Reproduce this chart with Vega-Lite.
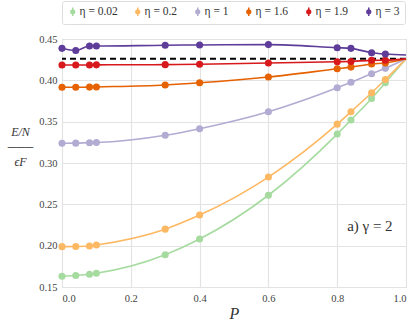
{
  "$schema": "https://vega.github.io/schema/vega-lite/v6.json",
  "width": 344,
  "height": 248,
  "autosize": {"type": "none"},
  "padding": {"left": 62, "top": 39, "right": 9, "bottom": 40},
  "background": "white",
  "config": {
    "font": "serif",
    "view": {"stroke": "#c8c8c8", "strokeWidth": 1},
    "axis": {"grid": true, "gridColor": "#e3e3e3", "gridWidth": 1.2, "domain": false, "ticks": false, "labelFont": "serif", "labelFontSize": 10.5, "labelColor": "#444", "titleFont": "serif", "titleFontWeight": "normal", "titleColor": "#333"},
    "legend": {"labelFont": "serif", "titleFont": "serif"},
    "text": {"font": "serif"}
  },
  "datasets": {
    "curves": [
      {"P": 0, "E": 0.163, "eta": "η = 0.02"},
      {"P": 0.04, "E": 0.164, "eta": "η = 0.02"},
      {"P": 0.08, "E": 0.1654, "eta": "η = 0.02"},
      {"P": 0.1, "E": 0.1666, "eta": "η = 0.02"},
      {"P": 0.3, "E": 0.189, "eta": "η = 0.02"},
      {"P": 0.4, "E": 0.208, "eta": "η = 0.02"},
      {"P": 0.6, "E": 0.261, "eta": "η = 0.02"},
      {"P": 0.8, "E": 0.335, "eta": "η = 0.02"},
      {"P": 0.84, "E": 0.352, "eta": "η = 0.02"},
      {"P": 0.9, "E": 0.378, "eta": "η = 0.02"},
      {"P": 0.94, "E": 0.397, "eta": "η = 0.02"},
      {"P": 1.0, "E": 0.426, "eta": "η = 0.02"},
      {"P": 0, "E": 0.1988, "eta": "η = 0.2"},
      {"P": 0.04, "E": 0.199, "eta": "η = 0.2"},
      {"P": 0.08, "E": 0.1996, "eta": "η = 0.2"},
      {"P": 0.1, "E": 0.2008, "eta": "η = 0.2"},
      {"P": 0.3, "E": 0.220, "eta": "η = 0.2"},
      {"P": 0.4, "E": 0.237, "eta": "η = 0.2"},
      {"P": 0.6, "E": 0.283, "eta": "η = 0.2"},
      {"P": 0.8, "E": 0.347, "eta": "η = 0.2"},
      {"P": 0.84, "E": 0.362, "eta": "η = 0.2"},
      {"P": 0.9, "E": 0.385, "eta": "η = 0.2"},
      {"P": 0.94, "E": 0.401, "eta": "η = 0.2"},
      {"P": 1.0, "E": 0.426, "eta": "η = 0.2"},
      {"P": 0, "E": 0.3238, "eta": "η = 1"},
      {"P": 0.04, "E": 0.324, "eta": "η = 1"},
      {"P": 0.08, "E": 0.3246, "eta": "η = 1"},
      {"P": 0.1, "E": 0.3248, "eta": "η = 1"},
      {"P": 0.3, "E": 0.3335, "eta": "η = 1"},
      {"P": 0.4, "E": 0.3415, "eta": "η = 1"},
      {"P": 0.6, "E": 0.362, "eta": "η = 1"},
      {"P": 0.8, "E": 0.391, "eta": "η = 1"},
      {"P": 0.84, "E": 0.3976, "eta": "η = 1"},
      {"P": 0.9, "E": 0.408, "eta": "η = 1"},
      {"P": 0.94, "E": 0.4145, "eta": "η = 1"},
      {"P": 1.0, "E": 0.426, "eta": "η = 1"},
      {"P": 0, "E": 0.3916, "eta": "η = 1.6"},
      {"P": 0.04, "E": 0.3916, "eta": "η = 1.6"},
      {"P": 0.08, "E": 0.3918, "eta": "η = 1.6"},
      {"P": 0.1, "E": 0.392, "eta": "η = 1.6"},
      {"P": 0.3, "E": 0.3944, "eta": "η = 1.6"},
      {"P": 0.4, "E": 0.397, "eta": "η = 1.6"},
      {"P": 0.6, "E": 0.404, "eta": "η = 1.6"},
      {"P": 0.8, "E": 0.414, "eta": "η = 1.6"},
      {"P": 0.84, "E": 0.416, "eta": "η = 1.6"},
      {"P": 0.9, "E": 0.4198, "eta": "η = 1.6"},
      {"P": 0.94, "E": 0.421, "eta": "η = 1.6"},
      {"P": 1.0, "E": 0.426, "eta": "η = 1.6"},
      {"P": 0, "E": 0.4186, "eta": "η = 1.9"},
      {"P": 0.04, "E": 0.4186, "eta": "η = 1.9"},
      {"P": 0.08, "E": 0.4186, "eta": "η = 1.9"},
      {"P": 0.1, "E": 0.4187, "eta": "η = 1.9"},
      {"P": 0.3, "E": 0.419, "eta": "η = 1.9"},
      {"P": 0.4, "E": 0.4194, "eta": "η = 1.9"},
      {"P": 0.6, "E": 0.421, "eta": "η = 1.9"},
      {"P": 0.8, "E": 0.4225, "eta": "η = 1.9"},
      {"P": 0.84, "E": 0.4228, "eta": "η = 1.9"},
      {"P": 0.9, "E": 0.4242, "eta": "η = 1.9"},
      {"P": 0.94, "E": 0.4244, "eta": "η = 1.9"},
      {"P": 1.0, "E": 0.426, "eta": "η = 1.9"},
      {"P": 0, "E": 0.4387, "eta": "η = 3"},
      {"P": 0.04, "E": 0.436, "eta": "η = 3"},
      {"P": 0.08, "E": 0.4415, "eta": "η = 3"},
      {"P": 0.1, "E": 0.4415, "eta": "η = 3"},
      {"P": 0.3, "E": 0.4425, "eta": "η = 3"},
      {"P": 0.4, "E": 0.4428, "eta": "η = 3"},
      {"P": 0.6, "E": 0.4432, "eta": "η = 3"},
      {"P": 0.8, "E": 0.4395, "eta": "η = 3"},
      {"P": 0.84, "E": 0.4387, "eta": "η = 3"},
      {"P": 0.9, "E": 0.4334, "eta": "η = 3"},
      {"P": 0.94, "E": 0.4318, "eta": "η = 3"},
      {"P": 1.0, "E": 0.4306, "eta": "η = 3"}
    ],
    "notes": [{"P": 0.895, "E": 0.224, "label": "a) γ = 2"}],
    "ref": [{"E": 0.426}]
  },
  "layer": [
    {
      "data": {"name": "ref"},
      "mark": {"type": "rule", "color": "black", "strokeWidth": 2, "strokeDash": [6, 4]},
      "encoding": {"y": {"field": "E", "type": "quantitative"}}
    },
    {
      "data": {"name": "curves"},
      "mark": {"type": "line", "interpolate": "monotone", "strokeWidth": 1.6},
      "encoding": {
        "x": {"field": "P", "type": "quantitative", "scale": {"domain": [0, 1], "nice": false}, "axis": {"values": [0, 0.2, 0.4, 0.6, 0.8, 1.0], "format": ".1f", "title": "P", "titleFontSize": 16, "titleFontStyle": "italic", "titlePadding": 2, "labelPadding": 6}},
        "y": {"field": "E", "type": "quantitative", "scale": {"domain": [0.15, 0.45], "nice": false, "zero": false}, "axis": {"values": [0.15, 0.2, 0.25, 0.3, 0.35, 0.4, 0.45], "format": ".2f", "labelPadding": 5, "title": ["E/N", "───", "ϵF"], "titleAngle": 0, "titleFontStyle": "italic", "titleFontSize": 12, "titleLineHeight": 15, "titleX": -42, "titleY": 92, "titleAlign": "center", "titleBaseline": "middle"}},
        "color": {"field": "eta", "type": "nominal", "scale": {"domain": ["η = 0.02", "η = 0.2", "η = 1", "η = 1.6", "η = 1.9", "η = 3"], "range": ["#a6dba0", "#fdb863", "#b2abd2", "#e66101", "#d7191c", "#5e3c99"]}, "legend": {"title": null, "orient": "top", "direction": "horizontal", "columns": 6, "offset": 15, "labelFontSize": 11.5, "labelColor": "#333", "symbolType": "M-0.45,0A0.45,0.45 0 1,1 0.45,0A0.45,0.45 0 1,1 -0.45,0ZM0,-1L0,1", "symbolSize": 70, "symbolStrokeWidth": 1.5, "columnPadding": 14, "labelOffset": 1, "padding": 5, "strokeColor": "#dddddd", "cornerRadius": 2, "encode": {"symbols": {"update": {"fill": {"scale": "color", "field": "value"}, "stroke": {"scale": "color", "field": "value"}, "strokeWidth": {"value": 1.5}}}}}}
      }
    },
    {
      "data": {"name": "curves"},
      "transform": [{"filter": "datum.P < 1"}],
      "mark": {"type": "point", "filled": true, "size": 50, "opacity": 1},
      "encoding": {
        "x": {"field": "P", "type": "quantitative"},
        "y": {"field": "E", "type": "quantitative"},
        "color": {"field": "eta", "type": "nominal"}
      }
    },
    {
      "data": {"name": "notes"},
      "mark": {"type": "text", "fontSize": 15, "color": "#333", "align": "center", "baseline": "middle"},
      "encoding": {
        "x": {"field": "P", "type": "quantitative"},
        "y": {"field": "E", "type": "quantitative"},
        "text": {"field": "label"}
      }
    }
  ]
}
